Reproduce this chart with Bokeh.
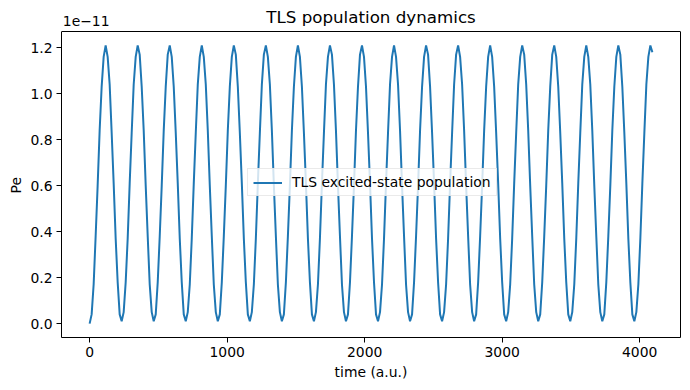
from bokeh.plotting import figure
from bokeh.models import (Range1d, FixedTicker, NumeralTickFormatter, Label,
                          Legend, LegendItem, LinearAxis, Span, Title)
from bokeh.embed import file_html
from bokeh.resources import INLINE

# ---- data ----
PE_SCALE = 1e-11          # shown as the "1e-11" offset above the y axis
time_step = 14.5625       # a.u. between samples
pe_scaled = [
    0.00, 0.04, 0.17, 0.38, 0.60, 0.84, 1.03, 1.16, 1.21, 1.16, 1.04, 0.83, 0.61, 0.37, 0.18, 0.04,
    0.01, 0.05, 0.18, 0.37, 0.61, 0.83, 1.04, 1.16, 1.21, 1.17, 1.03, 0.84, 0.60, 0.38, 0.17, 0.05,
    0.01, 0.04, 0.18, 0.38, 0.60, 0.84, 1.03, 1.17, 1.21, 1.16, 1.03, 0.83, 0.61, 0.37, 0.18, 0.04,
    0.01, 0.05, 0.17, 0.37, 0.61, 0.83, 1.04, 1.16, 1.21, 1.16, 1.04, 0.84, 0.60, 0.38, 0.17, 0.05,
    0.01, 0.04, 0.18, 0.38, 0.60, 0.84, 1.03, 1.16, 1.21, 1.17, 1.03, 0.83, 0.61, 0.37, 0.18, 0.04,
    0.01, 0.05, 0.17, 0.37, 0.61, 0.83, 1.04, 1.17, 1.21, 1.16, 1.04, 0.84, 0.60, 0.38, 0.17, 0.05,
    0.01, 0.04, 0.18, 0.38, 0.60, 0.84, 1.03, 1.16, 1.21, 1.16, 1.03, 0.83, 0.61, 0.37, 0.18, 0.04,
    0.01, 0.05, 0.17, 0.37, 0.61, 0.83, 1.04, 1.16, 1.21, 1.17, 1.04, 0.84, 0.60, 0.38, 0.17, 0.05,
    0.01, 0.04, 0.18, 0.38, 0.60, 0.84, 1.03, 1.17, 1.21, 1.16, 1.03, 0.83, 0.61, 0.37, 0.18, 0.04,
    0.01, 0.05, 0.17, 0.37, 0.61, 0.83, 1.04, 1.16, 1.21, 1.16, 1.04, 0.84, 0.60, 0.38, 0.17, 0.05,
    0.01, 0.04, 0.18, 0.38, 0.60, 0.84, 1.03, 1.16, 1.21, 1.17, 1.03, 0.83, 0.61, 0.37, 0.18, 0.04,
    0.01, 0.05, 0.17, 0.37, 0.61, 0.83, 1.04, 1.17, 1.21, 1.16, 1.04, 0.84, 0.60, 0.38, 0.17, 0.05,
    0.01, 0.04, 0.18, 0.38, 0.60, 0.84, 1.03, 1.16, 1.21, 1.16, 1.03, 0.83, 0.61, 0.37, 0.18, 0.04,
    0.01, 0.05, 0.17, 0.37, 0.61, 0.83, 1.04, 1.16, 1.21, 1.17, 1.04, 0.84, 0.60, 0.38, 0.17, 0.05,
    0.01, 0.04, 0.18, 0.38, 0.60, 0.84, 1.03, 1.17, 1.21, 1.16, 1.03, 0.83, 0.61, 0.37, 0.18, 0.04,
    0.01, 0.05, 0.17, 0.37, 0.61, 0.83, 1.04, 1.16, 1.21, 1.16, 1.04, 0.84, 0.60, 0.38, 0.17, 0.05,
    0.01, 0.04, 0.18, 0.38, 0.60, 0.84, 1.03, 1.16, 1.21, 1.17, 1.03, 0.83, 0.61, 0.37, 0.18, 0.04,
    0.01, 0.05, 0.17, 0.37, 0.61, 0.83, 1.04, 1.16, 1.21, 1.18,
]
time_au = [i * time_step for i in range(len(pe_scaled))]

x_ticks = [0, 1000, 2000, 3000, 4000]
y_ticks = [0.0, 0.2, 0.4, 0.6, 0.8, 1.0, 1.2]

TITLE = "TLS population dynamics"
X_LABEL = "time (a.u.)"
Y_LABEL = "Pe"
SERIES = "TLS excited-state population"
OFFSET_TEXT = "1e\u221211"

FONT = "DejaVu Sans"
BLUE = "#1f77b4"

# ---- layout (pixels) ----
W, H = 684, 386
LEFT, RIGHT, BOTTOM = 61, 680, 337     # frame edges on the canvas
BOX_TOP = 31                           # top spine of the axes box
FRAME_H = BOTTOM                       # frame runs from canvas top to BOTTOM
BOX_H = BOTTOM - BOX_TOP

# ---- ranges with matplotlib-like 5% margins ----
xmin, xmax = min(time_au), max(time_au)
ymin, ymax = min(pe_scaled), max(pe_scaled)
xpad = 0.05 * (xmax - xmin)
ypad = 0.05 * (ymax - ymin)
x0, x1 = xmin - xpad, xmax + xpad
y0, y1 = ymin - ypad, ymax + ypad
y_top = y0 + (y1 - y0) * FRAME_H / BOX_H   # frame extends above the box for the texts

p = figure(width=W, height=H, output_backend="svg", toolbar_location=None,
           x_range=Range1d(x0, x1), y_range=Range1d(y0, y_top),
           min_border_left=LEFT, min_border_right=W - RIGHT, min_border_top=0,
           min_border_bottom=H - BOTTOM)

p.background_fill_color = "white"
p.border_fill_color = "white"
p.outline_line_color = None
p.xgrid.visible = False
p.ygrid.visible = False

r = p.line(time_au, pe_scaled, line_color=BLUE, line_width=2)

for ax in (p.xaxis[0], p.yaxis[0]):
    ax.major_label_text_font = FONT
    ax.major_label_text_font_size = "13.9px"
    ax.major_label_text_color = "black"
    ax.axis_label_text_font = FONT
    ax.axis_label_text_font_size = "13.9px"
    ax.axis_label_text_font_style = "normal"
    ax.axis_label_text_color = "black"
    ax.major_tick_in = 0
    ax.major_tick_out = 5
    ax.minor_tick_in = 0
    ax.minor_tick_out = 0
    ax.axis_line_color = "black"
    ax.axis_line_width = 1
    ax.major_tick_line_color = "black"

p.xaxis.ticker = FixedTicker(ticks=x_ticks)
p.yaxis.ticker = FixedTicker(ticks=y_ticks)
p.yaxis.formatter = NumeralTickFormatter(format="0.0")
p.yaxis.bounds = (y0, y1)
p.xaxis.axis_label = X_LABEL
p.xaxis.major_label_standoff = 4
p.yaxis.major_label_standoff = 4
p.xaxis.axis_label_standoff = 4

# y-axis label as a rotated side title, centred on the axes box
p.add_layout(Title(text=Y_LABEL, align="left", vertical_align="middle",
                   offset=144, standoff=5, text_font=FONT,
                   text_font_size="13.9px", text_font_style="normal",
                   text_color="black"), "left")

# right and top spines of the axes box
right_spine = LinearAxis(ticker=FixedTicker(ticks=[]), bounds=(y0, y1),
                         major_tick_out=0, major_tick_in=0, minor_tick_out=0,
                         minor_tick_in=0, major_label_standoff=0,
                         axis_line_color="black", axis_line_width=1)
p.add_layout(right_spine, "right")
p.add_layout(Span(location=y1, dimension="width", line_color="black",
                  line_width=1))

# title and offset text (screen units measured from the frame's bottom-left)
p.add_layout(Label(x=(RIGHT - LEFT) / 2, y=BOTTOM - 16.7, x_units="screen",
                   y_units="screen", text=TITLE, text_font=FONT,
                   text_font_size="16.7px", text_color="black",
                   text_align="center", text_baseline="alphabetic"))
p.add_layout(Label(x=1.3, y=BOTTOM - 20.7, x_units="screen", y_units="screen",
                   text=OFFSET_TEXT, text_font=FONT, text_font_size="13.9px",
                   text_color="black", text_align="left",
                   text_baseline="alphabetic"))

legend = Legend(items=[LegendItem(label=SERIES, renderers=[r])],
                location=(186, 141), margin=0, padding=5, spacing=0,
                glyph_width=29, glyph_height=15, label_height=15,
                label_standoff=10, label_text_font=FONT,
                label_text_font_size="13.9px", label_text_color="black",
                border_line_color="#d5d5d5", border_line_width=1,
                background_fill_color="white", background_fill_alpha=0.8)
p.add_layout(legend)

open("out.html", "w").write(file_html(p, INLINE))
